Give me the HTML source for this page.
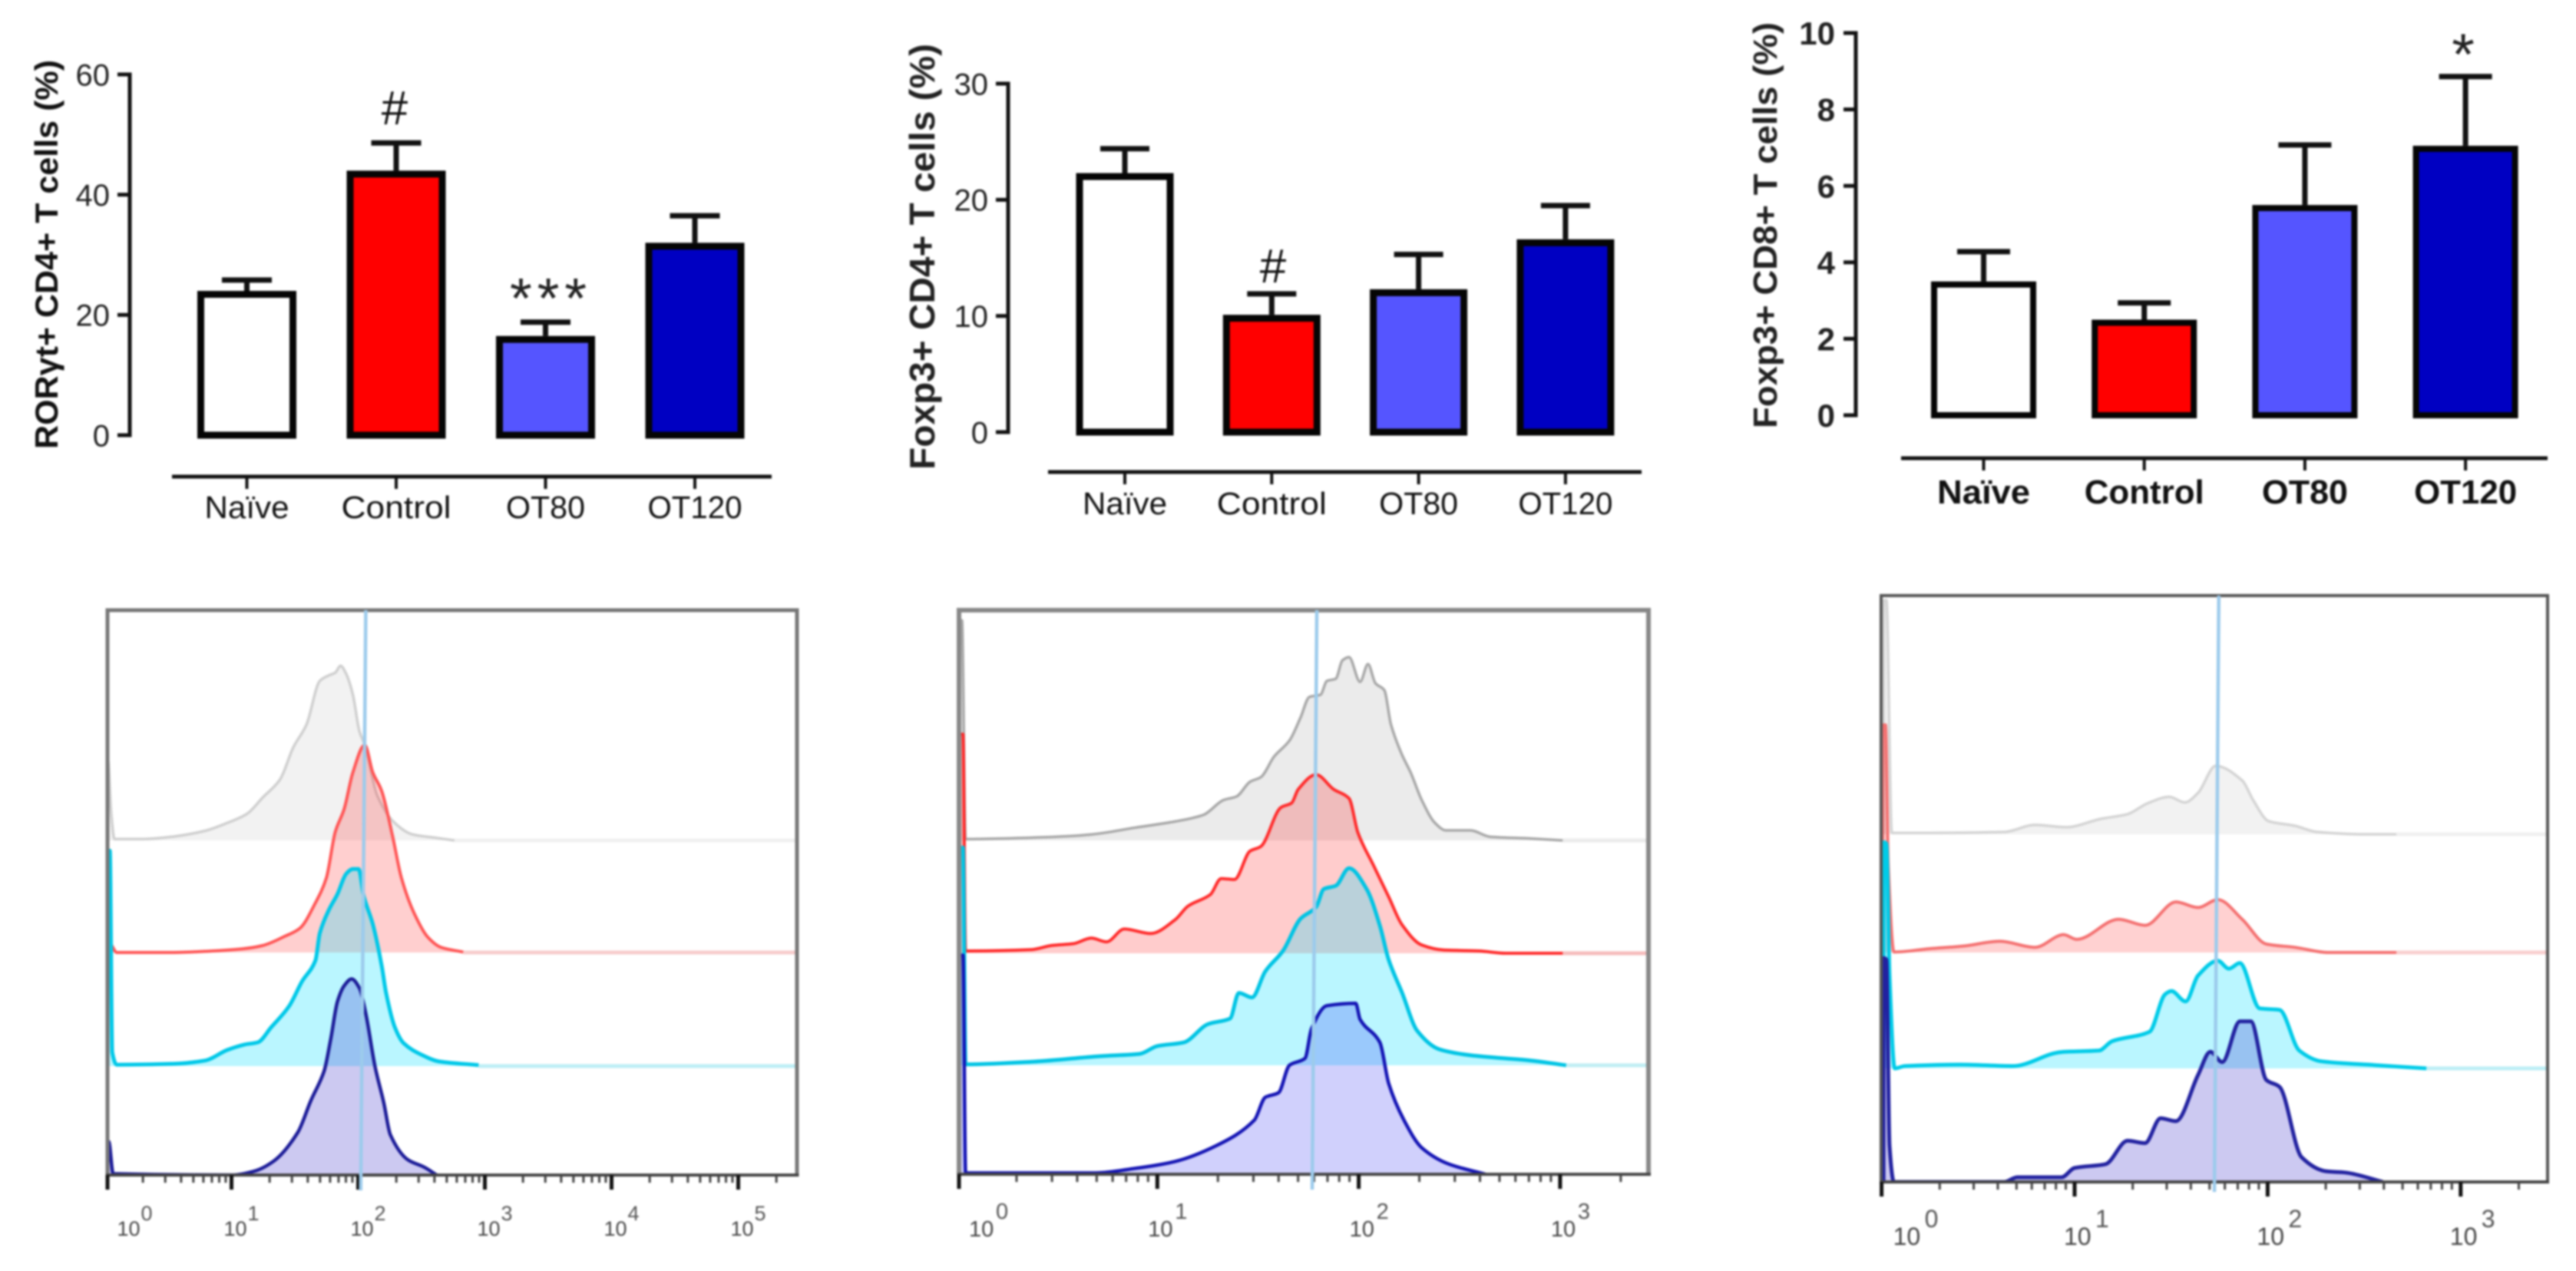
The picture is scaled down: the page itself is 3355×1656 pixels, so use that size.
<!DOCTYPE html>
<html lang="en">
<head>
<meta charset="utf-8">
<title>Lymphocyte bar charts and flow cytometry histograms</title>
<style>
html,body{margin:0;padding:0;background:#fff;width:3355px;height:1656px;overflow:hidden}
svg{display:block;filter:blur(1.3px);font-family:"Liberation Sans",sans-serif}
</style>
</head>
<body>
<svg id="figure" xmlns="http://www.w3.org/2000/svg" width="3355" height="1656" viewBox="0 0 3355 1656">
  <rect x="0" y="0" width="3355" height="1656" fill="#fff"/>
  <text transform="translate(75 585) rotate(-90)" font-size="42" font-weight="bold" fill="#111" textLength="507" lengthAdjust="spacingAndGlyphs">RORγt+ CD4+ T cells (%)</text>
  <text transform="translate(1217 612) rotate(-90)" font-size="46" font-weight="bold" fill="#222" textLength="555" lengthAdjust="spacingAndGlyphs">Foxp3+ CD4+ T cells (%)</text>
  <text transform="translate(2314 558) rotate(-90)" font-size="44" font-weight="bold" fill="#222" textLength="529" lengthAdjust="spacingAndGlyphs">Foxp3+ CD8+ T cells (%)</text>
  <text x="514" y="162" font-size="62" text-anchor="middle" fill="#111">#</text>
  <text x="664" y="414" font-size="74" fill="#222" textLength="100" lengthAdjust="spacing">***</text>
  <text x="1658" y="368" font-size="62" text-anchor="middle" fill="#111">#</text>
  <text x="3208" y="97" font-size="76" text-anchor="middle" fill="#222">*</text>
</svg>
<script>
// ---------- bar chart data ----------
const categories = ['Naïve', 'Control', 'OT80', 'OT120'];
const rorMeans = [24, 44, 16.5, 32];
const rorErrors = [1.8, 4.6, 2.3, 4.5];
const rorTicks = [0, 20, 40, 60];
const foxCd4Means = [22.3, 10.1, 12.3, 16.6];
const foxCd4Errors = [2.1, 1.8, 3, 2.9];
const foxCd4Ticks = [0, 10, 20, 30];
const foxCd8Means = [3.5, 2.5, 5.5, 7.05];
const foxCd8Errors = [0.78, 0.44, 1.57, 1.81];
const foxCd8Ticks = [0, 2, 4, 6, 8, 10];
const barFills = ['#ffffff', '#ff0000', '#5555ff', '#0000c2'];

// ---------- histogram data: [log10 intensity, normalised count] ----------
const rorGray = [[0.02,0],[0.025,35],[0.05,12],[0.077,0.6],[0.303,0.6],[0.53,1.6],[0.791,4.2],[0.965,7.6],[1.122,11.6],[1.244,18.6],[1.383,26.6],[1.488,40.6],[1.592,50.6],[1.697,69.6],[1.767,72],[1.819,73.2],[1.861,76.2],[1.906,72.6],[1.958,63.6],[2.01,47.6],[2.052,41.6],[2.15,19.6],[2.289,7.6],[2.429,2.6],[2.603,1.2],[2.76,0]];
const rorRed = [[0.02,0],[0.042,3.6],[0.094,0],[0.547,0],[0.826,0.6],[1.087,1.6],[1.244,3],[1.418,7],[1.54,10.6],[1.662,21.6],[1.749,32.6],[1.819,52.6],[1.889,62.6],[1.958,78.6],[2.052,90.6],[2.115,78.6],[2.185,70.6],[2.272,50.6],[2.341,32.6],[2.446,16.6],[2.551,6.6],[2.655,2.2],[2.829,0.2]];
const rorCyan = [[0.02,0],[0.021,94],[0.04,94],[0.059,6],[0.094,0.6],[0.547,1],[0.791,2.4],[0.965,7],[1.105,9.4],[1.209,10.4],[1.314,17],[1.453,26],[1.557,37],[1.662,46],[1.697,58],[1.767,68],[1.836,75],[1.906,84],[1.958,86],[2.003,86],[2.045,74],[2.115,62],[2.185,44],[2.22,32],[2.289,17],[2.359,10],[2.498,5],[2.638,2],[2.951,0.4]];
const rorNavy = [[0.02,0],[0.031,14.6],[0.066,0.6],[1,0],[1.174,1.6],[1.331,6],[1.523,18.6],[1.627,32.6],[1.732,45.6],[1.784,59.6],[1.836,75.6],[1.889,82.6],[1.948,85.6],[2.01,81.6],[2.063,69.6],[2.132,47.6],[2.202,31.6],[2.254,17.6],[2.394,6.6],[2.516,3.6],[2.62,0]];

const cd4Gray = [[0.015,0],[0.016,96],[0.03,96],[0.048,0.6],[0.497,1.6],[0.672,2.6],[0.891,5.6],[1.109,8.6],[1.23,11.2],[1.328,17.6],[1.394,19.2],[1.46,25.6],[1.514,27.6],[1.58,36.6],[1.656,43.6],[1.711,53.6],[1.755,62.6],[1.81,63.6],[1.842,69.6],[1.886,70.6],[1.919,78.6],[1.952,80],[2.007,69.2],[2.046,77],[2.083,68.6],[2.127,65.6],[2.16,50.6],[2.214,37.6],[2.258,29.6],[2.313,17.6],[2.379,7.6],[2.433,4.4],[2.554,4.4],[2.652,1.6],[2.86,0.8],[3.013,0]];
const cd4Red = [[0.015,0],[0.016,95.6],[0.035,95.6],[0.048,1],[0.376,1.6],[0.475,3.4],[0.584,4.2],[0.672,6.6],[0.748,5],[0.836,10.6],[0.967,8.6],[1.088,14.6],[1.153,20.6],[1.263,25.6],[1.317,32.6],[1.383,32.2],[1.46,44.6],[1.514,46.6],[1.613,63.6],[1.667,65.6],[1.7,71.6],[1.788,78],[1.875,71.6],[1.952,67.6],[1.996,52.6],[2.072,38.6],[2.149,24.6],[2.214,12.6],[2.313,3.6],[2.422,1.4],[2.597,1],[2.729,0],[3.013,0]];
const cd4Cyan = [[0.015,0],[0.016,95],[0.035,95],[0.048,0.4],[0.387,1.6],[0.716,4],[0.912,5],[1,8.4],[1.131,10],[1.252,18],[1.361,20.4],[1.405,31.6],[1.47,29.6],[1.536,41],[1.624,50],[1.711,64],[1.788,69],[1.827,77],[1.886,78.4],[1.952,86],[2.039,77],[2.105,61],[2.149,46],[2.214,32],[2.291,15],[2.4,7],[2.554,4.4],[2.86,2],[3.03,0]];
const cd4Navy = [[0.015,0],[0.016,95.6],[0.035,95.6],[0.048,0.6],[0.694,0.6],[0.891,2.6],[1.088,5.6],[1.295,12.6],[1.481,23.6],[1.536,33.6],[1.602,35.6],[1.656,47.6],[1.733,50.6],[1.766,63.6],[1.842,73.6],[1.985,74.6],[2.007,67.6],[2.105,57.6],[2.149,39.6],[2.225,23.6],[2.313,11.6],[2.444,4.6],[2.63,0]];

const cd8Gray = [[0.01,0],[0.012,100],[0.025,100],[0.053,0.6],[0.247,0.6],[0.635,1],[0.795,4],[0.954,3],[1.137,6.6],[1.274,8.6],[1.377,13.2],[1.491,16],[1.571,13.6],[1.639,17.6],[1.731,29.2],[1.868,23],[1.925,14.6],[2.005,5.6],[2.142,3.6],[2.256,1],[2.507,0],[2.667,0]];
const cd8Red = [[0.005,0],[0.006,97.2],[0.02,97.2],[0.035,37],[0.064,0.2],[0.247,1.6],[0.429,2.8],[0.612,4.8],[0.795,2.2],[0.943,7.6],[1.011,5.6],[1.228,14.2],[1.365,11.6],[1.525,21.6],[1.639,19.2],[1.742,22.6],[1.868,14.2],[1.993,3.6],[2.142,2.2],[2.313,0],[2.667,0]];
const cd8Cyan = [[0.01,0],[0.011,96.6],[0.025,96],[0.041,40],[0.068,0],[0.121,1],[0.406,1.6],[0.68,1],[0.932,7],[1.126,7.6],[1.194,11.6],[1.388,15.6],[1.468,31.6],[1.502,33],[1.575,28.6],[1.639,39.6],[1.742,46],[1.799,42.6],[1.856,45],[1.959,25.6],[2.062,25],[2.164,7.6],[2.279,3],[2.553,1.4],[2.822,0]];
const cd8Navy = [[0.01,0],[0.011,95.6],[0.025,95],[0.041,15.6],[0.064,0],[0.635,0],[0.703,2],[0.932,2],[1,6],[1.16,7.6],[1.274,17.6],[1.365,16.6],[1.445,27.2],[1.525,26],[1.639,45.6],[1.703,55.6],[1.765,51.2],[1.856,68.6],[1.913,68.6],[1.993,43.6],[2.062,40.6],[2.176,10.6],[2.301,4.6],[2.404,4],[2.598,0]];

const rorDecades = [0, 1, 2, 3, 4, 5];
const cd4Decades = [0, 1, 2, 3];
const cd8Decades = [0, 1, 2, 3];
const rorGateLog = [2.06, 2.02];
const cd4GateLog = [1.792, 1.769];
const cd8GateLog = [1.747, 1.724];
const seriesNames = ['naive', 'control', 'ot80', 'ot120'];

// ---------- helpers ----------
const NS = 'http://www.w3.org/2000/svg';
const root = document.getElementById('figure');
function make(tag, attrs, parent, txt) {
  const node = document.createElementNS(NS, tag);
  for (const k in attrs) node.setAttribute(k, attrs[k]);
  if (txt !== undefined) node.textContent = txt;
  parent.appendChild(node);
  return node;
}
// monotone cubic segments through scaled points (no overshoot)
function curveSegments(p) {
  const n = p.length;
  const s = [];
  for (let i = 0; i < n - 1; i++) s.push((p[i + 1][1] - p[i][1]) / (p[i + 1][0] - p[i][0]));
  const m = [s[0]];
  for (let i = 1; i < n - 1; i++) {
    if (s[i - 1] * s[i] <= 0) { m.push(0); continue; }
    const lim = 3 * Math.min(Math.abs(s[i - 1]), Math.abs(s[i]));
    const h = 2 * s[i - 1] * s[i] / (s[i - 1] + s[i]);
    m.push(Math.sign(h) * Math.min(Math.abs(h), lim));
  }
  m.push(s[n - 2]);
  let d = '';
  for (let i = 0; i < n - 1; i++) {
    const h = (p[i + 1][0] - p[i][0]) / 3;
    d += 'C' + (p[i][0] + h).toFixed(1) + ' ' + (p[i][1] + m[i] * h).toFixed(1) + ' ' +
         (p[i + 1][0] - h).toFixed(1) + ' ' + (p[i + 1][1] - m[i + 1] * h).toFixed(1) + ' ' +
         p[i + 1][0].toFixed(1) + ' ' + p[i + 1][1].toFixed(1);
  }
  return d;
}

// ---------- bar panels ----------
function drawBars(c) {
  const g = make('g', {}, root);
  
  
  const yScale = v => c.y0 - v * (c.y0 - c.yTop) / c.yMax;
  const xScale = i => c.c0 + i * c.step;

  const axis = make('line', {x1: c.axisX, x2: c.axisX, y1: yScale(c.yMax) - 2.5, y2: yScale(0) + 2.5, stroke: '#111', 'stroke-width': 5}, g);
  
  
  c.ticks.forEach(t => {
    const tk = make('line', {x1: c.axisX - 16, x2: c.axisX, y1: yScale(t), y2: yScale(t), stroke: '#111', 'stroke-width': 5}, g);
    
    
    const lb = make('text', {x: c.tickLabelX, y: yScale(t) + c.tickFont * 0.36, 'text-anchor': 'end', 'font-size': c.tickFont, 'font-weight': c.weight, fill: '#222'}, g, String(t));
    
    
  });

  const xAxis = make('line', {x1: c.xL, x2: c.xR, y1: c.xAxisY, y2: c.xAxisY, stroke: '#111', 'stroke-width': 5}, g);
  
  

  categories.forEach((cat, i) => {
    const cx = xScale(i);
    const top = yScale(c.means[i]);
    const errTop = yScale(c.means[i] + c.errors[i]);
    const stem = make('line', {x1: cx, x2: cx, y1: top, y2: errTop, stroke: '#111', 'stroke-width': 7}, g);
    
    
    const cap = make('line', {x1: cx - c.capW / 2, x2: cx + c.capW / 2, y1: errTop, y2: errTop, stroke: '#111', 'stroke-width': 7}, g);
    
    
    const bar = make('rect', {x: cx - c.bw / 2 + c.sw / 2, y: top + c.sw / 2, width: c.bw - c.sw, height: yScale(0) - top - c.sw / 2, fill: barFills[i], stroke: '#050505', 'stroke-width': c.sw}, g);
    
    
    const tk = make('line', {x1: cx, x2: cx, y1: c.xAxisY, y2: c.xAxisY + 16, stroke: '#111', 'stroke-width': 4}, g);
    
    
    const lb = make('text', {x: cx, y: c.labelBase, 'text-anchor': 'middle', 'font-size': c.labelFont, 'font-weight': c.weight, fill: '#111', textLength: c.labelLens[i], lengthAdjust: 'spacingAndGlyphs'}, g, cat);
    
    
  });
}

drawBars({name: 'ror', means: rorMeans, errors: rorErrors, ticks: rorTicks, yMax: 60, yTop: 97, y0: 567, axisX: 169, tickLabelX: 143, tickFont: 40, weight: 'normal', c0: 321.5, step: 194.5, bw: 129, sw: 9, capW: 65, xL: 224, xR: 1005, xAxisY: 621, labelBase: 675, labelFont: 41, labelLens: [110, 143, 103, 123]});
drawBars({name: 'foxp3-cd4', means: foxCd4Means, errors: foxCd4Errors, ticks: foxCd4Ticks, yMax: 30, yTop: 109, y0: 563, axisX: 1313, tickLabelX: 1287, tickFont: 40, weight: 'normal', c0: 1465, step: 191.3, bw: 127, sw: 9, capW: 64, xL: 1365, xR: 2138, xAxisY: 615, labelBase: 670, labelFont: 41, labelLens: [110, 143, 103, 123]});
drawBars({name: 'foxp3-cd8', means: foxCd8Means, errors: foxCd8Errors, ticks: foxCd8Ticks, yMax: 10, yTop: 43, y0: 541, axisX: 2417, tickLabelX: 2390, tickFont: 42, weight: 'bold', c0: 2583.5, step: 209.2, bw: 137, sw: 8, capW: 69, xL: 2476, xR: 3318, xAxisY: 597, labelBase: 656, labelFont: 44, labelLens: [121, 156, 112, 134]});

// ---------- histogram panels ----------
function drawHist(c, idx) {
  const g = make('g', {}, root);
  
  
  const xScale = lg => c.x0 + lg * c.dec;
  const clipId = 'clip' + idx;
  const defs = make('defs', {}, g);
  const cp = make('clipPath', {id: clipId}, defs);
  make('rect', {x: c.left, y: c.top, width: c.right - c.left, height: c.base - c.top}, cp);

  c.series.forEach((pts, i) => {
    const base = c.baselines[i];
    const yScale = n => base - n * c.pxPerCount;
    const scaled = pts.map(p => [xScale(p[0]), yScale(p[1])]);
    const segs = curveSegments(scaled);
    const first = scaled[0];
    const last = scaled[scaled.length - 1];
    const s = c.styles[i];
    const area = make('path', {d: 'M' + first[0].toFixed(1) + ' ' + base + 'L' + first[0].toFixed(1) + ' ' + first[1].toFixed(1) + segs + 'L' + last[0].toFixed(1) + ' ' + base + 'Z', fill: s.fill, 'clip-path': 'url(#' + clipId + ')'}, g);
    
    
    if (i < 3) {
      const tail = make('line', {x1: last[0], x2: c.right, y1: base, y2: base, stroke: s.tail, 'stroke-width': 5}, g);
      
      
    }
    const line = make('path', {d: 'M' + first[0].toFixed(1) + ' ' + first[1].toFixed(1) + segs, fill: 'none', stroke: s.stroke, 'stroke-width': s.w, 'stroke-linejoin': 'round', 'clip-path': 'url(#' + clipId + ')'}, g);
    
    
  });

  const frame = make('path', {d: 'M' + c.left + ' ' + c.base + 'V' + c.top + 'H' + c.right + 'V' + c.base, fill: 'none', stroke: c.frame, 'stroke-width': c.frameW}, g);
  
  
  const axis = make('line', {x1: c.left - 2, x2: c.right + c.frameW / 2, y1: c.base, y2: c.base, stroke: '#444', 'stroke-width': 4}, g);
  
  

  c.decades.forEach((d, k) => {
    const major = make('line', {x1: Math.max(xScale(d), c.left), x2: Math.max(xScale(d), c.left), y1: c.base, y2: c.base + 19, stroke: '#111', 'stroke-width': 5}, g);
    
    
    [2, 3, 4, 5, 6, 7, 8, 9].forEach(m => {
      const tx = xScale(d + Math.log10(m));
      if (tx >= c.right - 4) return;
      const minor = make('line', {x1: tx, x2: tx, y1: c.base, y2: c.base + 10, stroke: '#444', 'stroke-width': 3}, g);
      
      
    });
    const shift = k === 0 ? c.firstShift : 0;
    const t1 = make('text', {x: xScale(d) + c.tenDx + shift, y: c.tenY, 'font-size': c.font, fill: '#444'}, g, '10');
    
    
    const t2 = make('text', {x: xScale(d) + c.expDx + shift, y: c.expY, 'font-size': c.font, fill: '#555'}, g, String(d));
    
    
  });

  const gate = make('line', {x1: xScale(c.gate[0]), x2: xScale(c.gate[1]), y1: c.top, y2: c.gateEnd, stroke: '#9ccbec', 'stroke-width': 4.5}, g);
  
  
}

drawHist({name: 'ror', series: [rorGray, rorRed, rorCyan, rorNavy], decades: rorDecades, gate: rorGateLog, gateEnd: 1551,
  x0: 136.5, dec: 165, left: 140, right: 1038, top: 795, base: 1531, baselines: [1095, 1241, 1389, 1531], pxPerCount: 2.985,
  frame: '#777', frameW: 5, font: 27, tenDx: -10, expDx: 21, firstShift: 26, tenY: 1610, expY: 1590,
  styles: [
    {fill: 'rgba(0,0,0,.05)', stroke: '#cfcfcf', tail: '#f0f0f0', w: 3.5},
    {fill: 'rgba(255,0,0,.19)', stroke: '#ff5555', tail: '#f7cccc', w: 4},
    {fill: 'rgba(0,220,255,.27)', stroke: '#00c8e8', tail: '#bdeef5', w: 5},
    {fill: 'rgba(50,40,200,.25)', stroke: '#1c1c98', tail: 'none', w: 4.5}]}, 1);
drawHist({name: 'foxp3-cd4', series: [cd4Gray, cd4Red, cd4Cyan, cd4Navy], decades: cd4Decades, gate: cd4GateLog, gateEnd: 1550,
  x0: 1245, dec: 262.3, left: 1249, right: 2147, top: 795, base: 1530, baselines: [1095, 1242, 1388, 1530], pxPerCount: 2.985,
  frame: '#888', frameW: 6, font: 29, tenDx: -12, expDx: 23, firstShift: 29, tenY: 1611, expY: 1588,
  styles: [
    {fill: 'rgba(0,0,0,.08)', stroke: '#a8a8a8', tail: '#ebebeb', w: 3.5},
    {fill: 'rgba(255,0,0,.2)', stroke: '#ff2a2a', tail: '#f5bcbc', w: 4},
    {fill: 'rgba(0,220,255,.27)', stroke: '#00c4e4', tail: '#c0eef4', w: 5},
    {fill: 'rgba(40,40,240,.22)', stroke: '#1414b4', tail: 'none', w: 4.5}]}, 2);
drawHist({name: 'foxp3-cd8', series: [cd8Gray, cd8Red, cd8Cyan, cd8Navy], decades: cd8Decades, gate: cd8GateLog, gateEnd: 1553,
  x0: 2450.6, dec: 251.4, left: 2450, right: 3318, top: 776, base: 1540, baselines: [1087, 1241, 1392, 1540], pxPerCount: 3.05,
  frame: '#555', frameW: 4, font: 32, tenDx: -14, expDx: 27, firstShift: 29, tenY: 1622, expY: 1599,
  styles: [
    {fill: 'rgba(0,0,0,.05)', stroke: '#d4d4d4', tail: '#f0f0f0', w: 3.5},
    {fill: 'rgba(255,0,0,.18)', stroke: '#f47070', tail: '#f9cfcf', w: 4},
    {fill: 'rgba(0,220,255,.27)', stroke: '#00cbe8', tail: '#bdeef5', w: 5},
    {fill: 'rgba(50,40,200,.25)', stroke: '#2222a0', tail: 'none', w: 5}]}, 3);
</script>
</body>
</html>
